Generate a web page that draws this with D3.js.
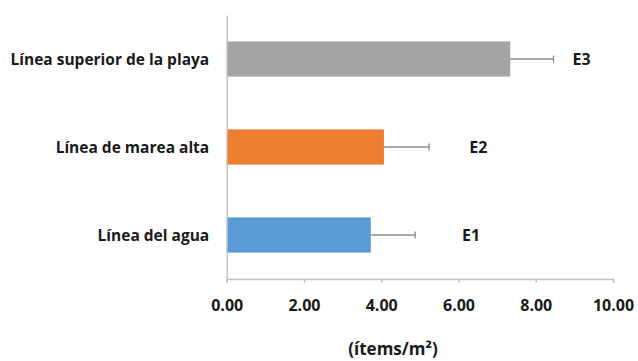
<!DOCTYPE html>
<html><head><meta charset="utf-8">
<script src="https://cdn.jsdelivr.net/npm/d3@7"></script>
<style>body{margin:0;background:#fff}svg{display:block}</style>
</head><body><svg id="c" width="638" height="361"></svg>
<script>
const categories = ["Línea superior de la playa", "Línea de marea alta", "Línea del agua"];
const values = [7.34, 4.07, 3.73];
const errors = [1.12, 1.17, 1.15];
const groupLabels = ["E3", "E2", "E1"];
const groupLabelAt = [8.95, 6.28, 6.09];
const colors = ["#A5A5A5", "#ED7D31", "#5B9BD5"];
const xTicks = [0, 2, 4, 6, 8, 10];
const axisTitle = "(ítems/m²)";

const svg = d3.select("#c");
const font = "'Open Sans', sans-serif";
const ink = "#1a1a1a";
const x = d3.scaleLinear().domain([0, 10]).range([226.7, 613]);
const y = d3.scaleBand().domain(categories).range([15, 279]).paddingInner(0.6).paddingOuter(0.3);

// bars
svg.selectAll("rect.bar").data(categories).join("rect")
  .attr("x", x(0)).attr("y", d => y(d))
  .attr("width", (d, i) => x(values[i]) - x(0)).attr("height", y.bandwidth())
  .attr("fill", (d, i) => colors[i]);

// error bars
const eb = svg.append("g").attr("stroke", "#8c8c8c").attr("stroke-width", 1.3);
categories.forEach((c, i) => {
  const cy = y(c) + y.bandwidth() / 2;
  eb.append("line").attr("x1", x(values[i])).attr("x2", x(values[i] + errors[i])).attr("y1", cy).attr("y2", cy);
  eb.append("line").attr("x1", x(values[i] + errors[i])).attr("x2", x(values[i] + errors[i])).attr("y1", cy - 3.5).attr("y2", cy + 3.5);
});

// group labels
svg.selectAll("text.gl").data(categories).join("text")
  .attr("x", (d, i) => x(groupLabelAt[i])).attr("y", d => y(d) + y.bandwidth() / 2)
  .attr("dy", "0.36em").attr("font-family", font).attr("font-weight", "bold")
  .attr("font-size", 16).attr("fill", ink).text((d, i) => groupLabels[i]);

// x axis
const xa = svg.append("g").attr("transform", "translate(0,279)")
  .call(d3.axisBottom(x).tickValues(xTicks).tickFormat(d3.format(".2f")).tickSize(4));
xa.select(".domain").attr("stroke", "#bfbfbf").attr("stroke-width", 1.3);
xa.selectAll(".tick line").attr("stroke", "#bfbfbf").attr("stroke-width", 1.3);
xa.selectAll("text").attr("y", 32).attr("dy", 0).attr("font-family", font).attr("font-weight", "bold")
  .attr("font-size", 16).attr("fill", ink);

// y axis
const ya = svg.append("g").attr("transform", `translate(${x(0)},0)`)
  .call(d3.axisLeft(y).tickSize(0).tickPadding(17.5));
ya.select(".domain").attr("stroke", "#bfbfbf").attr("stroke-width", 1.3);
ya.selectAll("text").attr("dy", "0.36em").attr("font-family", font).attr("font-weight", "bold")
  .attr("font-size", 15.5).attr("fill", ink);

// axis title
svg.append("text").attr("x", 393).attr("y", 355)
  .attr("text-anchor", "middle").attr("font-family", font).attr("font-weight", "bold")
  .attr("font-size", 17).attr("fill", ink).text(axisTitle);
</script></body></html>
